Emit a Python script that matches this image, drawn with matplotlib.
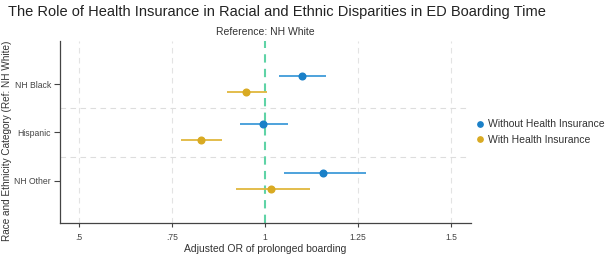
import matplotlib.pyplot as plt
import numpy as np

# Adjusted odds ratios (ref: NH White)
categories = ['NH Black', 'Hispanic', 'NH Other']
without_or = [1.099, 0.995, 1.157]
without_lo = [1.039, 0.933, 1.051]
without_hi = [1.163, 1.062, 1.273]
with_or = [0.950, 0.829, 1.016]
with_lo = [0.897, 0.775, 0.921]
with_hi = [1.006, 0.885, 1.121]
xticks = [0.5, 0.75, 1.0, 1.25, 1.5]
xticklabels = ['.5', '.75', '1', '1.25', '1.5']

plt.rcParams['font.family'] = ['Liberation Sans', 'DejaVu Sans']

blue = '#1a80c8'
blue_line = '#3f9bd9'
gold = '#d9aa22'
gold_line = '#e0b83e'
teal = '#5fd3a6'

fig = plt.figure(figsize=(6.08, 2.56), dpi=100)
ax = fig.add_axes([60 / 608, 1 - 223 / 256, 411 / 608, 182 / 256])

ypos = np.arange(1, len(categories) + 1)
off = 0.165

# confidence intervals and point estimates
ax.hlines(ypos - off, without_lo, without_hi, color=blue_line, lw=1.3, zorder=3)
ax.plot(without_or, ypos - off, 'o', color=blue, ms=4.8, zorder=4,
        label='Without Health Insurance')
ax.hlines(ypos + off, with_lo, with_hi, color=gold_line, lw=1.3, zorder=3)
ax.plot(with_or, ypos + off, 'o', color=gold, ms=4.8, zorder=4,
        label='With Health Insurance')

# reference line
ax.axvline(1.0, color=teal, lw=1.5, ls=(0, (4, 3)), zorder=2)
ax.text(1.0, 1.02, 'Reference: NH White', transform=ax.get_xaxis_transform(),
        ha='center', va='bottom', fontsize=7.5, color='#333333')

# grid
for x in xticks:
    if x != 1.0:
        ax.axvline(x, color='#e3e3e3', lw=0.8, ls=(0, (5, 4)), zorder=1)
for y in [1.5, 2.5]:
    ax.axhline(y, xmax=0.995, color='#dddddd', lw=0.8, ls=(0, (5, 4)), zorder=1)

ax.set_xlim(0.449, 1.554)
ax.set_ylim(3.87, 0.11)
ax.set_xticks(xticks)
ax.set_xticklabels(xticklabels)
ax.set_yticks(ypos)
ax.set_yticklabels(categories)
ax.tick_params(axis='both', labelsize=6.2, colors='#444444', length=4, width=0.8, pad=2.5)
ax.tick_params(axis='x', length=3, pad=4)

for s in ['top', 'right']:
    ax.spines[s].set_visible(False)
for s in ['left', 'bottom']:
    ax.spines[s].set_color('#444444')
    ax.spines[s].set_linewidth(0.9)

ax.set_xlabel('Adjusted OR of prolonged boarding', fontsize=7.5, color='#333333', labelpad=2)
fig.text(7 / 608, 1 - 141 / 256, 'Race and Ethnicity Category (Ref: NH White)',
         rotation=90, fontsize=7.2, color='#333333', ha='center', va='center')

fig.text(8 / 608, 1 - 12 / 256, 'The Role of Health Insurance in Racial and Ethnic Disparities in ED Boarding Time',
         fontsize=10.5, color='#222222', va='center', ha='left')

ax.legend(loc='center left', bbox_to_anchor=(1.005, 0.5), frameon=False, fontsize=7.5,
          handletextpad=0.3, handlelength=0.8, labelspacing=0.5, markerscale=0.8,
          borderaxespad=0.0, borderpad=0.3, labelcolor='#333333')

fig.savefig('out.png', dpi=100)
